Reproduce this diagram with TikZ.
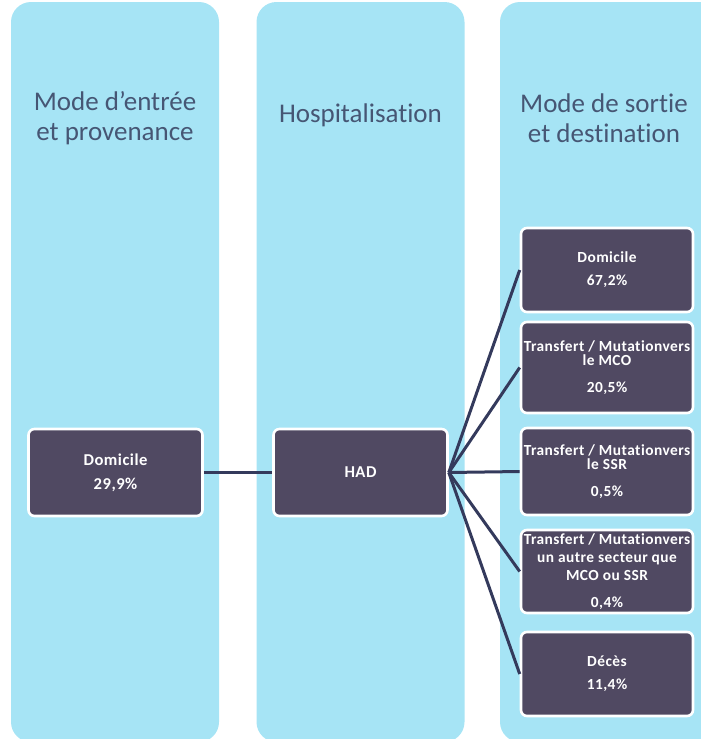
\documentclass[tikz,border=0pt]{standalone}
\usepackage{fontspec}
\setmainfont[Ligatures=NoCommon]{Carlito}
\newfontfamily\boxfont[LetterSpace=3,Ligatures=NoCommon]{Carlito}
\usepackage{xcolor}
\usepackage{tikz}
\usetikzlibrary{positioning}

\definecolor{colbg}{RGB}{166,228,245}
\definecolor{boxbg}{RGB}{80,73,98}
\definecolor{headtxt}{RGB}{70,86,116}
\definecolor{linkcol}{RGB}{52,58,92}

\begin{document}
\begin{tikzpicture}[x=0.5pt, y=-0.5pt,
    column/.style={rectangle, rounded corners=10pt, fill=colbg, minimum width=104pt, minimum height=370pt, inner sep=0pt},
    header/.style={align=center, text=headtxt, font=\fontsize{13.5}{15}\selectfont},
    stage/.style={rectangle, rounded corners=3pt, draw=white, line width=1.3pt, fill=boxbg, text=white, align=center, inner sep=0pt, minimum width=87pt, minimum height=43.5pt, font=\boxfont\bfseries\fontsize{8.3}{7}\selectfont},
    outcome/.style={stage, minimum width=86pt, font=\boxfont\bfseries\fontsize{7.7}{6.8}\selectfont},
    link/.style={draw=linkcol, line width=1.5pt}
]
    \useasboundingbox (0,0) rectangle (701,739);

    % columns
    \node[column] (colin) at (115,372) {};
    \node[column] (colhosp) at (360.5,372) {};
    \node[column, minimum width=114pt] (colout) at (614,372) {};

    \node[header] (hin) at (115,118) {Mode d\char"0027 entrée\\et provenance};
    \node[header] (hhosp) at (360.5,115) {Hospitalisation};
    \node[header] (hout) at (604,118) {Mode de sortie\\et destination};

    % stages
    \node[stage] (din) at (115.5,472.5) {Domicile\\[5pt]29,9\%};
    \node[stage] (had) at (360.5,472.5) {HAD};

    \node[outcome, minimum height=42pt] (odom) at (607,270) {Domicile\\[4.6pt]67,2\%};
    \node[outcome, minimum height=45.5pt] (omco) at (607,367.5) {Transfert / Mutationvers\\le MCO\\[6.6pt]20,5\%};
    \node[outcome, minimum height=43.5pt] (ossr) at (607,471.5) {Transfert / Mutationvers\\le SSR\\[6.6pt]0,5\%};
    \node[outcome, minimum height=41.5pt] (oaut) at (607,571.5) {Transfert / Mutationvers\\[2.2pt]un autre secteur que\\[2.2pt]MCO ou SSR\\[6.6pt]0,4\%};
    \node[outcome, minimum height=42pt] (odec) at (607,674) {Décès\\[4.6pt]11,4\%};

    % links
    \draw[link] (din) -- (had);
    \foreach \dest in {odom,omco,ossr,oaut,odec}
        \draw[link] (had.east) -- (\dest.west);
\end{tikzpicture}
\end{document}
